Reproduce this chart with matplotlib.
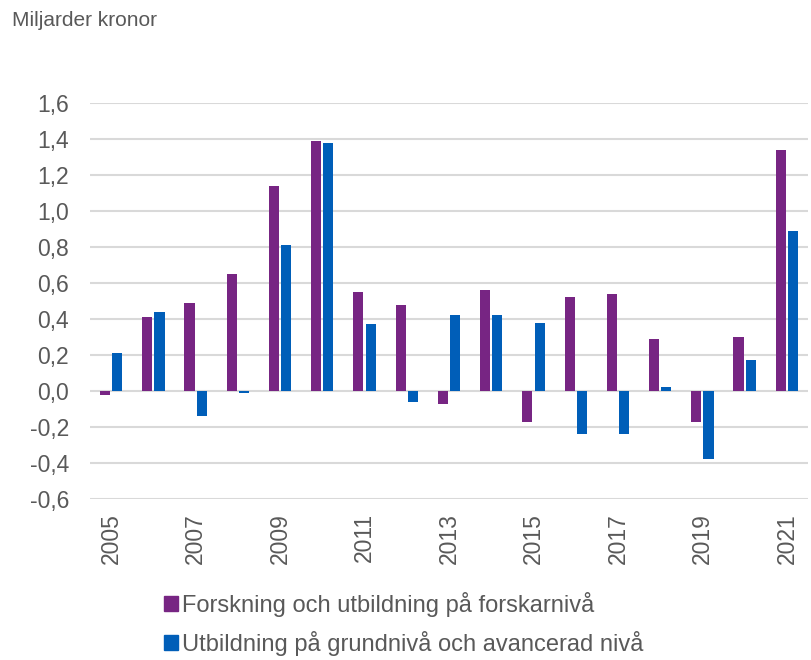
import matplotlib.pyplot as plt
import numpy as np
from matplotlib.patches import Patch

# data
years = list(range(2005, 2022))
forskning = [-0.02, 0.41, 0.49, 0.65, 1.14, 1.39, 0.55, 0.48, -0.07, 0.56,
             -0.17, 0.52, 0.54, 0.29, -0.17, 0.30, 1.34]
utbildning = [0.21, 0.44, -0.14, -0.01, 0.81, 1.38, 0.37, -0.06, 0.42, 0.42,
              0.38, -0.24, -0.24, 0.02, -0.38, 0.17, 0.89]
labels = ["Forskning och utbildning på forskarnivå",
          "Utbildning på grundnivå och avancerad nivå"]
yticks = np.arange(-0.6, 1.61, 0.2)

purple = "#772583"
blue = "#005EB8"
grey = "#595959"

plt.rcParams['font.family'] = ['Liberation Sans', 'DejaVu Sans']

fig = plt.figure(figsize=(8.11, 6.6), dpi=100)
ax = fig.add_axes([90 / 811, 1 - 499 / 660, 718 / 811, 396 / 660])

x = np.arange(len(years))
w = 0.24
ax.bar(x - w / 2 - 0.025, forskning, w, color=purple, zorder=3)
ax.bar(x + w / 2 + 0.025, utbildning, w, color=blue, zorder=3)

ax.set_xlim(-0.5, len(years) - 0.5)
ax.set_ylim(-0.6, 1.6)
ax.set_yticks(yticks)
ax.set_yticklabels([f"{v:.1f}".replace(".", ",").replace("-0,0", "0,0") for v in yticks])
ax.set_xticks(x[::2])
ax.set_xticklabels([str(y) for y in years[::2]], rotation=90)
ax.tick_params(length=0, labelsize=16.5, colors=grey)
ax.tick_params(axis='y', pad=15)
ax.tick_params(axis='x', pad=10)
ax.grid(axis='y', color="#D9D9D9", linewidth=1.5, zorder=0)
for s in ax.spines.values():
    s.set_visible(False)

fig.text(12 / 811, 1 - 20 / 660, "Miljarder kronor", fontsize=15, color=grey,
         va='center', ha='left')

handles = [Patch(color=purple), Patch(color=blue)]
fig.legend(handles, labels, loc='upper left', bbox_to_anchor=(164 / 811, 1 - 592 / 660),
           frameon=False, fontsize=17, labelcolor=grey, handlelength=0.6,
           handleheight=0.6, handletextpad=0.15, labelspacing=0.6,
           borderpad=0, borderaxespad=0)

plt.savefig("out.png", dpi=100)
